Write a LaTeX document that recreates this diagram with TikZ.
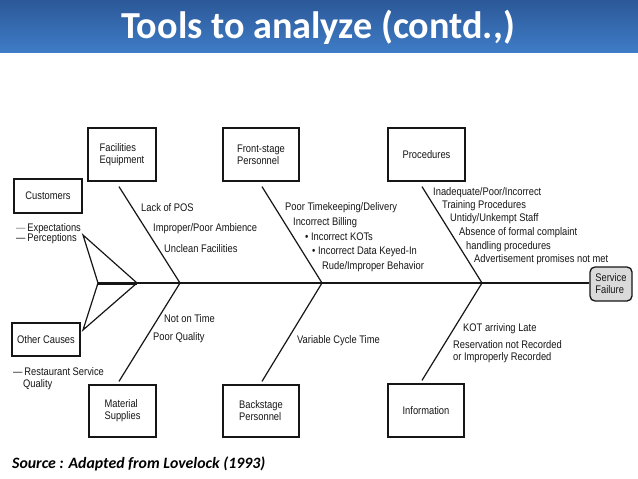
\documentclass[tikz,border=0pt]{standalone}
\usepackage{fontspec}
\setmainfont{Liberation Sans}
\newfontfamily\cond[FakeStretch=0.85]{Liberation Sans}
\newfontfamily\calib{Carlito}
\definecolor{bandtop}{RGB}{44,88,152}
\definecolor{bandbot}{RGB}{62,124,198}
\definecolor{ink}{RGB}{22,22,22}
\definecolor{sfgray}{RGB}{218,218,218}
\begin{document}
\begin{tikzpicture}[x=1pt,y=-1pt,
  box/.style={draw=ink, line width=1.3pt, inner sep=0pt, font=\cond\fontsize{11}{12}\selectfont, text=ink, align=left},
  lbl/.style={anchor=west, inner sep=0pt, font=\cond\fontsize{11}{12}\selectfont, text=ink, align=left},
  bone/.style={draw=ink, line width=1.2pt, line join=miter},
]
\useasboundingbox (0,0) rectangle (638,479);
\fill[white] (0,0) rectangle (638,479);
\shade[top color=bandtop, bottom color=bandbot] (0,0) rectangle (638,52);
\node[text=white, font=\calib\bfseries\fontsize{38.2}{40}\selectfont] (title) at (318,27) {Tools to analyze (contd.,)};

% boxes
\node[box, minimum width=68pt, minimum height=53pt] (fac) at (122,154.5) {Facilities\\Equipment};
\node[box, minimum width=76pt, minimum height=53pt] (front) at (261,154.5) {Front-stage\\Personnel};
\node[box, minimum width=77pt, minimum height=53pt] (proc) at (426.5,154.5) {Procedures};
\node[box, minimum width=67pt, minimum height=52pt] (mat) at (122.5,411) {Material\\Supplies};
\node[box, minimum width=76pt, minimum height=52pt] (back) at (261,411) {Backstage\\Personnel};
\node[box, minimum width=76pt, minimum height=53pt] (info) at (426,410.5) {Information};
\node[box, minimum width=68pt, minimum height=34pt] (cust) at (48,196) {Customers};
\node[box, minimum width=68pt, minimum height=33pt] (other) at (46,339.5) {Other Causes};
\node[box, fill=sfgray, rounded corners=5pt, minimum width=42pt, minimum height=34pt] (sf) at (611,284) {Service\\Failure};

% spine and tail
\coordinate (tip) at (98,283);
\coordinate (tipr) at (137,283);
\coordinate (up) at (83,235);
\coordinate (dn) at (83,330);
\coordinate (j1) at (180,283);
\coordinate (j2) at (322,283);
\coordinate (j3) at (482,283);
\draw[bone] (tip) -- (tip -| sf.west);
\draw[ink, line width=3pt] (tip) -- (tipr);
\draw[bone] (tipr) -- (up) -- (tip);
\draw[bone] (tipr) -- (dn) -- (tip);

% bones
\draw[bone] ([xshift=-3pt,yshift=-5pt]fac.south) -- (j1);
\draw[bone] ([xshift=1pt,yshift=-5pt]front.south) -- (j2);
\draw[bone] ([xshift=-4.5pt,yshift=-5pt]proc.south) -- (j3);
\draw[bone] ([xshift=-3.5pt,yshift=3pt]mat.north) -- (j1);
\draw[bone] ([xshift=1pt,yshift=3pt]back.north) -- (j2);
\draw[bone] ([xshift=-4pt,yshift=3pt]info.north) -- (j3);

% customers texts
\node[lbl] (e1) at (16,229) {\textcolor{gray}{\textemdash}\,Expectations};
\node[lbl] (e2) at (16,239) {\textemdash\,Perceptions};
\node[lbl] (r1) at (13,372) {\textemdash\,Restaurant Service};
\node[lbl] (r2) at (23,385) {Quality};

% facilities
\node[lbl] (f1) at (141,208) {Lack of POS};
\node[lbl] (f2) at (153,229) {Improper/Poor Ambience};
\node[lbl] (f3) at (164,249) {Unclean Facilities};

% front-stage
\node[lbl] (p1) at (285,208) {Poor Timekeeping/Delivery};
\node[lbl] (p2) at (293,223) {Incorrect Billing};
\node[lbl] (p3) at (305,237) {\textbullet\ Incorrect KOTs};
\node[lbl] (p4) at (312,252) {\textbullet\ Incorrect Data Keyed-In};
\node[lbl] (p5) at (322,267) {Rude/Improper Behavior};

% procedures
\node[lbl] (q1) at (433,193) {Inadequate/Poor/Incorrect};
\node[lbl] (q2) at (442,206) {Training Procedures};
\node[lbl] (q3) at (450,219) {Untidy/Unkempt Staff};
\node[lbl] (q4) at (459,233) {Absence of formal complaint};
\node[lbl] (q5) at (466,247) {handling procedures};
\node[lbl] (q6) at (474,260) {Advertisement promises not met};

% lower
\node[lbl] (m1) at (164,319) {Not on Time};
\node[lbl] (m2) at (153,338) {Poor Quality};
\node[lbl] (b1) at (297,341) {Variable Cycle Time};
\node[lbl] (i1) at (463,329) {KOT arriving Late};
\node[lbl] (i2) at (453,351.5) {Reservation not Recorded\\or Improperly Recorded};

% source
\node[anchor=west, inner sep=0pt, font=\calib\bfseries\itshape\fontsize{15.8}{17}\selectfont] (src) at (12,464) {Source : Adapted from Lovelock (1993)};
\end{tikzpicture}
\end{document}
